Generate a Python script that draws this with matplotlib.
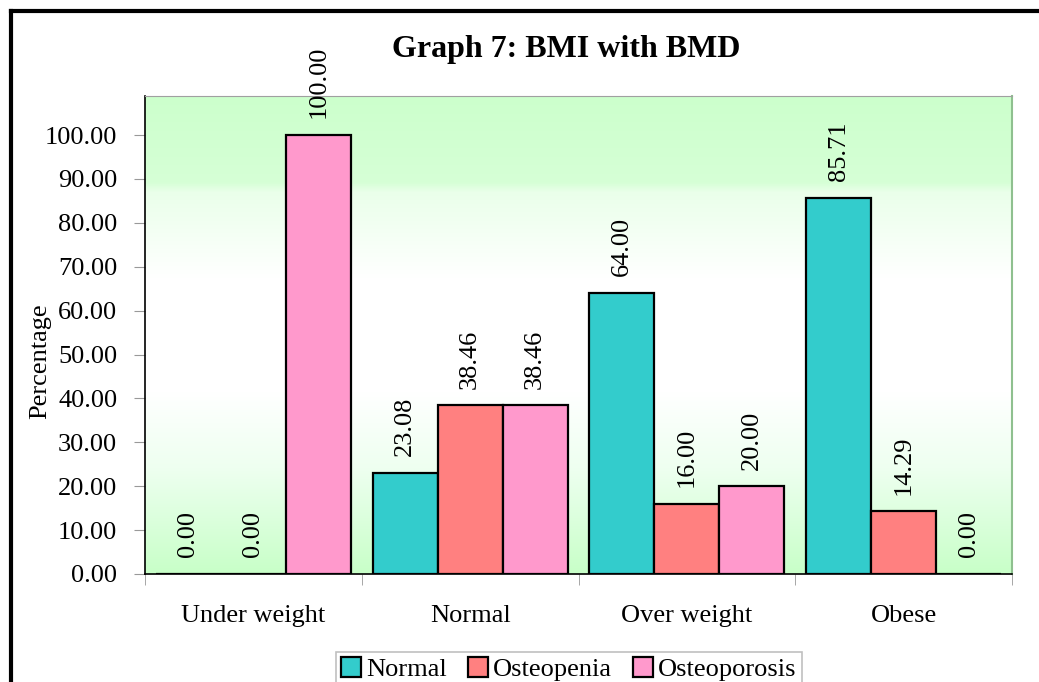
import numpy as np
import matplotlib
matplotlib.use("Agg")
import matplotlib.pyplot as plt
from matplotlib.colors import LinearSegmentedColormap
from matplotlib.lines import Line2D

# ============================================
# Data
# ============================================

categories = ["Under weight", "Normal", "Over weight", "Obese"]
series_names = ["Normal", "Osteopenia", "Osteoporosis"]
normal = [0.00, 23.08, 64.00, 85.71]
osteopenia = [0.00, 38.46, 16.00, 14.29]
osteoporosis = [100.00, 38.46, 20.00, 0.00]
yticks = [0, 10, 20, 30, 40, 50, 60, 70, 80, 90, 100]

colors = ["#33cccc", "#ff8080", "#ff99cc"]

# ============================================
# Plot
# ============================================

plt.rcParams["font.family"] = ["Liberation Serif", "DejaVu Serif"]

fig = plt.figure(figsize=(10.39, 6.82), dpi=100)
ax = fig.add_axes([145 / 1039, 1 - 574 / 682, (1012 - 145) / 1039, (574 - 96) / 682])

ymax = 108.9
ax.set_xlim(-0.5, 3.5)
ax.set_ylim(0, ymax)

# gradient background of the plot area
grad_cmap = LinearSegmentedColormap.from_list(
    "bg",
    [(0.0, "#c8ffc8"), (0.22, "#eefff0"), (0.38, "#ffffff"),
     (0.62, "#ffffff"), (0.8, "#eaffea"), (0.82, "#d6ffd6"), (1.0, "#ccffcc")],
)
grad = np.linspace(0, 1, 256).reshape(-1, 1)
ax.imshow(grad, cmap=grad_cmap, aspect="auto", origin="lower",
          extent=[-0.5, 3.5, 0, ymax], zorder=0)

x = np.arange(len(categories))
width = 0.3
all_series = [normal, osteopenia, osteoporosis]

for i, (vals, name) in enumerate(zip(all_series, series_names)):
    pos = x + (i - 1) * width
    ax.bar(pos, vals, width, color=colors[i], edgecolor="black",
           linewidth=1.6, label=name, zorder=2)
    for xp, v in zip(pos, vals):
        ax.annotate(f"{v:.2f}", (xp, v), xytext=(0, 12),
                    textcoords="offset points", rotation=90,
                    ha="center", va="bottom", fontsize=19,
                    annotation_clip=False, zorder=3)

# axes styling
ax.set_yticks(yticks)
ax.set_yticklabels([f"{t:.2f}" for t in yticks], fontsize=19)
ax.tick_params(axis="y", direction="out", length=8, color="#999999", pad=12)

ax.set_xticks(x)
ax.set_xticklabels(categories, fontsize=19)
ax.set_xticks(np.arange(-0.5, 4.0, 1.0), minor=True)
ax.tick_params(axis="x", which="major", length=0, pad=22)
ax.tick_params(axis="x", which="minor", direction="out", length=8,
               color="#999999")

ax.spines["left"].set_color("black")
ax.spines["bottom"].set_color("black")
ax.spines["left"].set_linewidth(1.2)
ax.spines["bottom"].set_linewidth(1.2)
ax.spines["top"].set_color("#a0a0a0")
ax.spines["right"].set_color("#8fc08f")
ax.spines["right"].set_linewidth(1.5)

ax.set_ylabel("Percentage", fontsize=19)
ax.yaxis.set_label_coords(-0.108, 0.446)

fig.text(0.545, 1 - 49 / 682, "Graph 7: BMI with BMD", ha="center",
         va="center", fontsize=23, fontweight="bold")

leg = fig.legend(loc="upper center", bbox_to_anchor=(569 / 1039, 1 - 639 / 682),
                 ncol=3, fontsize=19, frameon=True, fancybox=False,
                 handlelength=0.75, handleheight=0.75, handletextpad=0.2,
                 columnspacing=0.8, borderpad=0.2, edgecolor="#b0b0b0")
leg.get_frame().set_linewidth(1.2)

# outer frame (left and top visible)
fig.add_artist(Line2D([11 / 1039, 11 / 1039], [0, 1 - 11 / 682],
                      transform=fig.transFigure, color="black", linewidth=3))
fig.add_artist(Line2D([11 / 1039, 1], [1 - 11 / 682, 1 - 11 / 682],
                      transform=fig.transFigure, color="black", linewidth=3))

# Save graph
fig.savefig("out.png", dpi=100)
